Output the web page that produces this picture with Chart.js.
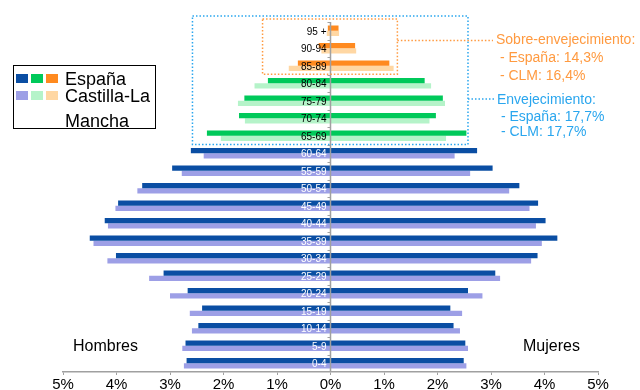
<!DOCTYPE html>
<html>
<head>
<meta charset="utf-8">
<script src="https://cdn.jsdelivr.net/npm/chart.js@4/dist/chart.umd.min.js"></script>
<style>
  body { margin: 0; background: #fff; font-family: "Liberation Sans", Arial, Helvetica, sans-serif; }
  #wrap { position: relative; width: 640px; height: 390px; }
  #legend {
    position: absolute; left: 13px; top: 65px; width: 143px; height: 64px;
    border: 1px solid #000; box-sizing: border-box; background: #fff;
  }
  .sw { position: absolute; width: 12px; height: 9px; }
  .lt { position: absolute; left: 51px; font-size: 18px; line-height: 18px; color: #000; white-space: nowrap; }
</style>
</head>
<body>
<div id="wrap">
  <canvas id="chart" width="640" height="390"></canvas>
  <div id="legend"></div>
</div>
<script>
const labels = ["95 +", "90-94", "85-89", "80-84", "75-79", "70-74", "65-69", "60-64", "55-59", "50-54",
  "45-49", "40-44", "35-39", "30-34", "25-29", "20-24", "15-19", "10-14", "5-9", "0-4"];

// % of total population, top (95+) to bottom (0-4)
const espHombres = [0.05, 0.22, 0.61, 1.17, 1.61, 1.71, 2.31, 2.61, 2.96, 3.52, 3.97, 4.22, 4.50, 4.01, 3.12, 2.67, 2.40, 2.47, 2.71, 2.69];
const clmHombres = [0.07, 0.17, 0.78, 1.42, 1.73, 1.60, 2.05, 2.37, 2.78, 3.61, 4.02, 4.16, 4.43, 4.17, 3.39, 3.00, 2.63, 2.59, 2.77, 2.74];
const espMujeres = [0.15, 0.46, 1.10, 1.76, 2.10, 1.97, 2.54, 2.74, 3.03, 3.53, 3.88, 4.02, 4.24, 3.87, 3.08, 2.57, 2.24, 2.30, 2.52, 2.49];
const clmMujeres = [0.16, 0.48, 1.18, 1.88, 2.14, 1.85, 2.16, 2.32, 2.61, 3.34, 3.72, 3.84, 3.95, 3.75, 3.17, 2.84, 2.46, 2.42, 2.57, 2.54];

const sobreLines = ["Sobre-envejecimiento:", " - España: 14,3%", " - CLM: 16,4%"];
const envejLines = ["Envejecimiento:", " - España: 17,7%", " - CLM: 17,7%"];

const dark = { orange: "#ff8a1f", green: "#00c95a", blue: "#0a4ea3" };
const light = { orange: "#ffd7a3", green: "#b5f3c9", blue: "#9d9fe6" };

function band(i) {
  return i < 3 ? "orange" : i < 7 ? "green" : "blue";
}
const darkCols = labels.map((_, i) => dark[band(i)]);
const lightCols = labels.map((_, i) => light[band(i)]);

const FONT = '"Liberation Sans", Arial, Helvetica, sans-serif';
Chart.defaults.font.family = FONT;

// legend (html)
const lg = document.getElementById("legend");
["blue", "green", "orange"].forEach((k, j) => {
  const a = document.createElement("div");
  a.className = "sw"; a.style.left = (2 + j * 15) + "px"; a.style.top = "8px"; a.style.background = dark[k];
  lg.appendChild(a);
  const b = document.createElement("div");
  b.className = "sw"; b.style.left = (2 + j * 15) + "px"; b.style.top = "25px"; b.style.background = light[k];
  lg.appendChild(b);
});
[["España", 4], ["Castilla-La", 21], ["Mancha", 46]].forEach(([t, top]) => {
  const d = document.createElement("div");
  d.className = "lt"; d.style.top = top + "px"; d.textContent = t;
  lg.appendChild(d);
});

const overlay = {
  id: "overlay",
  afterDatasetsDraw(chart) {
    const { ctx, chartArea, scales } = chart;
    const xs = scales.x, ys = scales.y;
    const x0 = xs.getPixelForValue(0);
    ctx.save();

    // center axis + small ticks
    ctx.strokeStyle = "#a0a0a0";
    ctx.lineWidth = 1.5;
    ctx.beginPath();
    ctx.moveTo(x0, chartArea.top);
    ctx.lineTo(x0, chartArea.bottom);
    ctx.stroke();
    ctx.lineWidth = 1;
    for (let i = 0; i < labels.length; i++) {
      const y = Math.round(ys.getPixelForValue(i - 0.5)) + 0.5;
      ctx.beginPath();
      ctx.moveTo(x0 - 3, y);
      ctx.lineTo(x0, y);
      ctx.stroke();
    }

    // category labels
    ctx.font = "10px " + FONT;
    ctx.textAlign = "right";
    ctx.textBaseline = "middle";
    labels.forEach((l, i) => {
      ctx.fillStyle = i < 7 ? "#000" : "#fff";
      ctx.fillText(l, x0 - 4, ys.getPixelForValue(i) + 1);
    });

    // blue box (65+)
    const blue = "#2aa6ee", orange = "#ff9a40";
    ctx.setLineDash([1.5, 2]);
    ctx.lineWidth = 1.5;
    ctx.strokeStyle = blue;
    const bl = xs.getPixelForValue(-2.58), br = xs.getPixelForValue(2.57);
    const bt = chartArea.top - 6, bb = ys.getPixelForValue(6.5);
    ctx.strokeRect(bl, bt, br - bl, bb - bt);
    const by = ys.getPixelForValue(3.9);
    ctx.beginPath(); ctx.moveTo(br, by); ctx.lineTo(494, by); ctx.stroke();

    // orange box (85+)
    ctx.strokeStyle = orange;
    const ol = xs.getPixelForValue(-1.27), orr = xs.getPixelForValue(1.25);
    const ot = chartArea.top - 3, ob = ys.getPixelForValue(2.48);
    ctx.strokeRect(ol, ot, orr - ol, ob - ot);
    const oy = ys.getPixelForValue(0.55);
    ctx.beginPath(); ctx.moveTo(orr, oy); ctx.lineTo(493, oy); ctx.stroke();
    ctx.setLineDash([]);

    ctx.font = "14px " + FONT;
    ctx.textAlign = "left";
    ctx.fillStyle = orange;
    [oy, oy + 18, oy + 36].forEach((y, k) => ctx.fillText(sobreLines[k], 496, y));
    ctx.fillStyle = blue;
    [by + 1, by + 18, by + 33].forEach((y, k) => ctx.fillText(envejLines[k], 497, y));

    // sex labels
    ctx.fillStyle = "#000";
    ctx.font = "16px " + FONT;
    ctx.fillText("Hombres", 73, 347);
    ctx.fillText("Mujeres", 523, 347);
    ctx.restore();
  }
};

new Chart(document.getElementById("chart"), {
  type: "bar",
  data: {
    labels,
    datasets: [
      { label: "España H", data: espHombres.map(v => -v), backgroundColor: darkCols, stack: "esp" },
      { label: "CLM H", data: clmHombres.map(v => -v), backgroundColor: lightCols, stack: "clm" },
      { label: "España M", data: espMujeres, backgroundColor: darkCols, stack: "esp" },
      { label: "CLM M", data: clmMujeres, backgroundColor: lightCols, stack: "clm" },
    ],
  },
  options: {
    indexAxis: "y",
    responsive: false,
    animation: false,
    categoryPercentage: 0.6,
    barPercentage: 1.0,
    layout: { padding: { left: 63, right: 42, top: 22, bottom: 0 } },
    plugins: { legend: { display: false }, tooltip: { enabled: false } },
    scales: {
      x: {
        stacked: true,
        min: -5,
        max: 5,
        ticks: {
          stepSize: 1,
          color: "#000",
          font: { size: 15, lineHeight: 1 },
          padding: 2,
          maxRotation: 0,
          callback: (v) => Math.abs(v) + "%",
        },
        grid: { drawOnChartArea: false, drawTicks: true, tickLength: 3, color: "#a0a0a0" },
        border: { display: true, color: "#a0a0a0", width: 1.5 },
        afterFit(scale) { scale.height = 18; },
      },
      y: { display: false },
    },
  },
  plugins: [overlay],
});
</script>
</body>
</html>
